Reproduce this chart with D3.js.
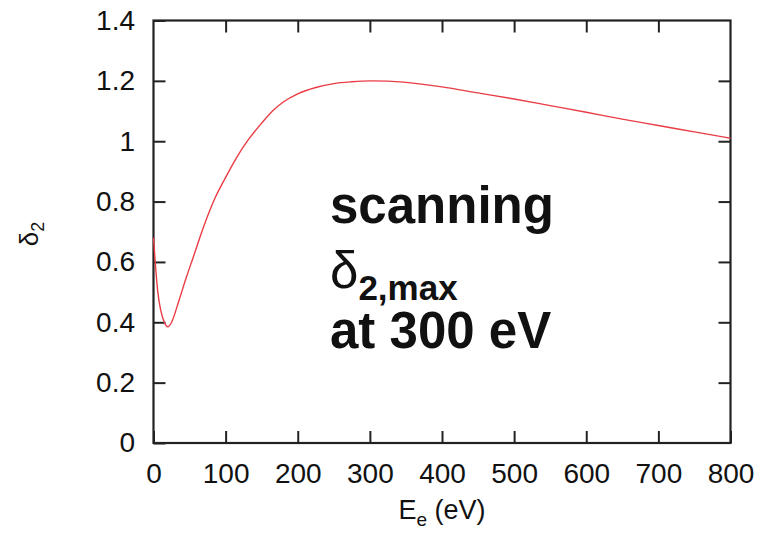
<!DOCTYPE html>
<html>
<head>
<meta charset="utf-8">
<script src="https://cdn.jsdelivr.net/npm/d3@7"></script>
<style>
  body { margin: 0; background: #fff; }
  svg text { font-family: "Liberation Sans", Arial, sans-serif; fill: #111; }
</style>
</head>
<body>
<div id="chart"></div>
<script>
// energy (eV) and delta_2
var energy = [0, 3, 6, 10, 15, 20, 25, 35, 45, 55, 70, 85, 100, 115, 130, 150, 165, 180, 200, 225, 250, 275, 300, 325, 350, 400, 450, 500, 550, 600, 650, 700, 750, 800];
var delta2 = [0.68, 0.58, 0.50, 0.44, 0.40, 0.385, 0.40, 0.47, 0.545, 0.615, 0.72, 0.81, 0.88, 0.945, 1.0, 1.06, 1.10, 1.13, 1.157, 1.178, 1.191, 1.197, 1.200, 1.199, 1.195, 1.180, 1.160, 1.140, 1.118, 1.096, 1.073, 1.052, 1.031, 1.010];
var xTicks = [0, 100, 200, 300, 400, 500, 600, 700, 800];
var yTicks = [0, 0.2, 0.4, 0.6, 0.8, 1, 1.2, 1.4];

var data = energy.map((e, i) => ({e: e, d: delta2[i]}));

var width = 763,
    height = 535,
    margin = {top: 20.5, right: 32.5, bottom: 92, left: 153.5};

var innerW = width - margin.left - margin.right,
    innerH = height - margin.top - margin.bottom;

var svg = d3.select("#chart")
    .append("svg")
    .attr("width", width)
    .attr("height", height)
    .append("g")
    .attr("transform", `translate(${margin.left},${margin.top})`);

var xScale = d3.scaleLinear().domain([0, 800]).range([0, innerW]);
var yScale = d3.scaleLinear().domain([0, 1.4]).range([innerH, 0]);

var xAxis = d3.axisBottom(xScale).tickValues(xTicks).tickSizeInner(-12).tickSizeOuter(0).tickPadding(20);
var yAxis = d3.axisLeft(yScale).tickValues(yTicks).tickSizeInner(-12).tickSizeOuter(0).tickPadding(18.5)
    .tickFormat(d3.format("~g"));
var xTop = d3.axisTop(xScale).tickValues(xTicks.slice(1, -1)).tickSizeInner(-12).tickSizeOuter(0).tickFormat("");
var yRight = d3.axisRight(yScale).tickValues(yTicks.slice(1, -1)).tickSizeInner(-12).tickSizeOuter(0).tickFormat("");

// Add the axes
svg.append("g")
    .attr("class", "x axis")
    .attr("transform", `translate(0,${innerH})`)
    .call(xAxis);

svg.append("g")
    .attr("class", "y axis")
    .call(yAxis);

svg.append("g").attr("class", "x axis top").call(xTop);
svg.append("g").attr("class", "y axis right").attr("transform", `translate(${innerW},0)`).call(yRight);

svg.selectAll(".axis .domain").remove();
svg.selectAll(".axis line").attr("stroke", "#222").attr("stroke-width", 2);
svg.selectAll(".axis text").style("font-size", "28px").attr("fill", "#111");

// frame
svg.append("rect")
    .attr("width", innerW)
    .attr("height", innerH)
    .attr("fill", "none")
    .attr("stroke", "#222")
    .attr("stroke-width", 2.2);

// curve
var line = d3.line()
    .x(d => xScale(d.e))
    .y(d => yScale(d.d))
    .curve(d3.curveMonotoneX);

svg.append("path")
    .datum(data)
    .attr("fill", "none")
    .attr("stroke", "#ea3c45")
    .attr("stroke-width", 1.4)
    .attr("d", line);

// axis titles
var xTitle = svg.append("text")
    .attr("x", innerW / 2)
    .attr("y", 519 - margin.top)
    .attr("text-anchor", "middle")
    .style("font-size", "27px");
xTitle.append("tspan").text("E");
xTitle.append("tspan").attr("dy", 7).style("font-size", "19px").text("e");
xTitle.append("tspan").attr("dy", -7).text(" (eV)");

var yTitle = svg.append("text")
    .attr("transform", `translate(${38 - margin.left},${234 - margin.top}) rotate(-90)`)
    .attr("text-anchor", "middle")
    .style("font-size", "26px");
yTitle.append("tspan").text("δ");
yTitle.append("tspan").attr("dy", 6).style("font-size", "18px").text("2");

// annotation
var note = svg.append("g")
    .attr("transform", `translate(${330 - margin.left},0)`)
    .style("font-weight", "bold");

note.append("text")
    .attr("y", 223 - margin.top)
    .style("font-size", "51px")
    .style("font-weight", "bold")
    .text("scanning");

var dm = note.append("text")
    .attr("y", 288 - margin.top)
    .style("font-size", "51px");
dm.append("tspan").style("font-weight", "normal").text("δ");
dm.append("tspan").attr("dy", 12).style("font-size", "35px").style("font-weight", "bold").text("2,max");

note.append("text")
    .attr("y", 348 - margin.top)
    .style("font-size", "51px")
    .style("font-weight", "bold")
    .text("at 300 eV");
</script>
</body>
</html>
